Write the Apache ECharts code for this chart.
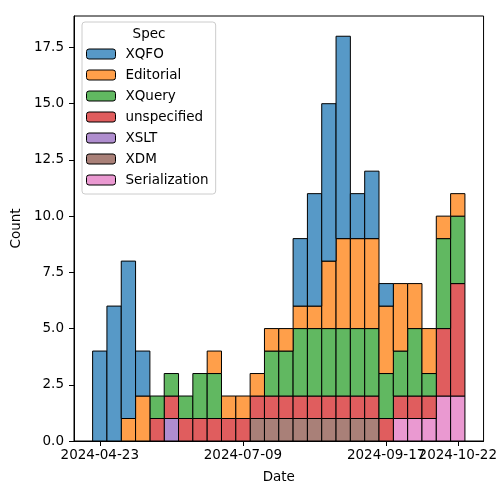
<!DOCTYPE html>
<html>
<head>
<meta charset="utf-8">
<script src="https://cdn.jsdelivr.net/npm/echarts@6/dist/echarts.min.js"></script>
<style>html,body{margin:0;padding:0;background:#fff}#c{width:500px;height:500px}</style>
</head>
<body>
<div id="c"></div>
<script>
// 26 histogram bins (index 0..25); stacking order bottom -> top
var specs = ["Serialization", "XDM", "XSLT", "unspecified", "XQuery", "Editorial", "XQFO"];
var legendOrder = ["XQFO", "Editorial", "XQuery", "unspecified", "XSLT", "XDM", "Serialization"];
var colors = {
  XQFO: "#5799c7", Editorial: "#ff9f4a", XQuery: "#61b861", unspecified: "#e05d5e",
  XSLT: "#af8dce", XDM: "#a98078", Serialization: "#ea99d1"
};
var XQFO          = [4,6,7,2,0,0,0,0,0,0,0,0,0,0,3,5,7,9,2,3,1,0,0,0,0,0];
var Editorial     = [0,0,1,2,0,0,0,0,1,1,1,1,1,1,1,1,3,4,4,4,3,3,2,2,1,1];
var XQuery        = [0,0,0,0,1,1,1,2,2,0,0,0,2,2,3,3,3,3,3,3,2,2,3,1,4,3];
var unspecified   = [0,0,0,0,1,1,1,1,1,1,1,1,1,1,1,1,1,1,1,1,1,1,1,1,3,5];
var XSLT          = [0,0,0,0,0,1,0,0,0,0,0,0,0,0,0,0,0,0,0,0,0,0,0,0,0,0];
var XDM           = [0,0,0,0,0,0,0,0,0,0,0,1,1,1,1,1,1,1,1,1,0,0,0,0,0,0];
var Serialization = [0,0,0,0,0,0,0,0,0,0,0,0,0,0,0,0,0,0,0,0,0,1,1,1,2,2];
// x tick positions (bin centers) and their labels
var xTickBins = [0, 10, 20, 25];
var xTickLabels = ["2024-04-23", "2024-07-09", "2024-09-17", "2024-10-22"];
var yTicks = [0, 2.5, 5, 7.5, 10, 12.5, 15, 17.5];

var values = {XQFO:XQFO, Editorial:Editorial, XQuery:XQuery, unspecified:unspecified,
              XSLT:XSLT, XDM:XDM, Serialization:Serialization};
var nBins = XQFO.length;
var base = new Array(nBins).fill(0);
var FONT = "DejaVu Sans";
var series = specs.map(function (name) {
  var vals = values[name];
  var data = [];
  for (var i = 0; i < nBins; i++) {
    if (vals[i] > 0) data.push([i, base[i], base[i] + vals[i]]);
    base[i] += vals[i];
  }
  return {
    name: name,
    type: "custom",
    xAxisIndex: 0,
    itemStyle: { color: colors[name], borderColor: "#000", borderWidth: 1 },
    encode: { x: 0, y: [1, 2] },
    data: data,
    renderItem: function (params, api) {
      var i = api.value(0);
      var p0 = api.coord([i, api.value(1)]);
      var p1 = api.coord([i + 1, api.value(2)]);
      return {
        type: "rect",
        shape: { x: p0[0], y: p1[1], width: p1[0] - p0[0], height: p0[1] - p1[1] },
        style: { fill: colors[name], stroke: "#000", lineWidth: 1 }
      };
    }
  };
});

var xTickVals = xTickBins.map(function (b) { return b + 0.5; });
function xFmt(v) { var k = xTickBins.indexOf(Math.round(v - 0.5)); return k >= 0 ? xTickLabels[k] : ""; }
// labels split over two overlaid axes so that the tightly spaced last two both stay visible
var xLabelsA = xTickVals.filter(function (v, k) { return k % 2 === 0; });
var xLabelsB = xTickVals.filter(function (v, k) { return k % 2 === 1; });
var labelStyle = { fontFamily: FONT, fontSize: 13.5, color: "#000", margin: 7, hideOverlap: false, formatter: xFmt };

var chart = echarts.init(document.getElementById("c"), null, { renderer: "canvas" });
chart.setOption({
  animation: false,
  backgroundColor: "#fff",
  textStyle: { fontFamily: FONT },
  grid: { left: 74, right: 15, top: 16, bottom: 59, show: true, borderColor: "#000", borderWidth: 1, containLabel: false },
  xAxis: [{
    type: "value", min: -1.3, max: nBins + 1.3, position: "bottom",
    name: "Date", nameLocation: "middle", nameGap: 29,
    nameTextStyle: { fontFamily: FONT, fontSize: 13.5, color: "#000" },
    axisLine: { onZero: false, lineStyle: { color: "#000" } },
    splitLine: { show: false },
    axisTick: { length: 5, lineStyle: { color: "#000" }, customValues: xTickVals },
    axisLabel: Object.assign({ customValues: xLabelsA }, labelStyle)
  }, {
    type: "value", min: -1.3, max: nBins + 1.3, position: "bottom", offset: 0,
    axisLine: { show: false, onZero: false },
    splitLine: { show: false },
    axisTick: { show: false },
    axisLabel: Object.assign({ customValues: xLabelsB }, labelStyle)
  }],
  yAxis: {
    type: "value", min: 0, max: 18.9,
    name: "Count", nameLocation: "middle", nameGap: 41, nameRotate: 90,
    nameTextStyle: { fontFamily: FONT, fontSize: 13.5, color: "#000" },
    axisLine: { show: true, onZero: false, lineStyle: { color: "#000" } },
    splitLine: { show: false },
    axisTick: { show: true, length: 5, lineStyle: { color: "#000" }, customValues: yTicks },
    axisLabel: {
      customValues: yTicks,
      formatter: function (v) { return v.toFixed(1); },
      fontFamily: FONT, fontSize: 13.5, color: "#000", margin: 10
    }
  },
  legend: {
    orient: "vertical", left: 82, top: 22,
    data: legendOrder,
    itemWidth: 29, itemHeight: 10, itemGap: 5,
    padding: [24, 7, 6, 4],
    backgroundColor: "rgba(255,255,255,0.8)",
    borderColor: "#cccccc", borderWidth: 1, borderRadius: 3,
    itemStyle: { borderColor: "#000", borderWidth: 1 },
    textStyle: { fontFamily: FONT, fontSize: 13.5, color: "#000", lineHeight: 16, padding: [0, 0, 0, 5] },
    selectedMode: false
  },
  graphic: [{
    type: "text", z: 100,
    style: { text: "Spec", x: 149, y: 34, textAlign: "center", textVerticalAlign: "middle",
             font: "13.5px DejaVu Sans", fill: "#000" }
  }],
  series: series
});
</script>
</body>
</html>
